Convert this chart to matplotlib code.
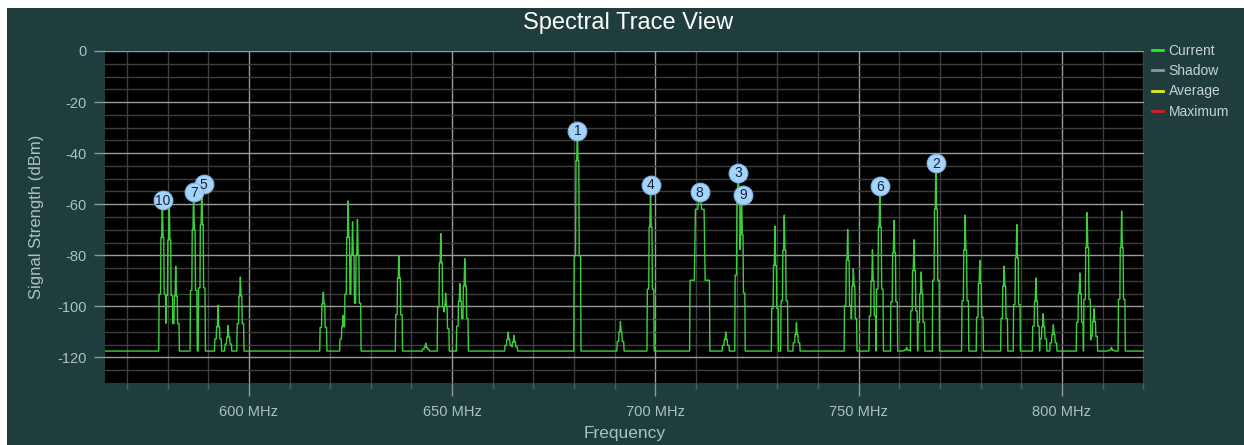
import matplotlib
matplotlib.use("Agg")
import matplotlib.pyplot as plt
from matplotlib.lines import Line2D
from matplotlib.patches import Rectangle
import numpy as np

plt.rcParams['font.family'] = ['Liberation Sans', 'DejaVu Sans']
plt.rcParams['axes.unicode_minus'] = False

# peaks: centre (MHz), top (dBm), shoulder (dBm), half width (MHz)
peak_freq = [578.7, 580.4, 582.0, 586.4, 588.4, 592.4, 594.9, 597.9,
             618.3, 623.2, 624.4, 625.5, 626.7, 636.9, 643.5, 647.2, 648.4,
             651.9, 653.1, 663.8, 665.2, 680.8, 691.4, 698.8, 710.9, 717.3,
             720.4, 721.2, 729.4, 731.7, 734.7, 747.3, 748.7, 753.4, 755.2,
             758.7, 761.8, 763.6, 765.4, 769.0, 776.2, 779.8, 785.8, 788.9,
             793.6, 795.4, 797.9, 804.4, 806.2, 807.9, 812.2, 814.7]
peak_top = [-58.5, -59.6, -84.3, -55.2, -52.2, -99.6, -107.5, -88.5,
            -94.4, -103.5, -58.7, -66.9, -66.0, -80.0, -114.4, -71.5, -94.8,
            -91.1, -81.3, -110.1, -111.4, -31.2, -105.9, -52.3, -55.2, -110.0,
            -47.6, -56.2, -68.6, -64.3, -106.4, -69.9, -85.2, -77.8, -52.8,
            -66.3, -116.0, -73.9, -86.5, -43.8, -64.3, -82.0, -84.2, -68.0,
            -88.9, -102.9, -107.2, -86.9, -63.3, -100.9, -116.0, -62.7]
peak_shoulder = [-73, -74, -96, -70, -68, -108, -112, -96,
                 -99, -108, -73, -80, -80, -89, -116, -83, -100,
                 -98, -92, -113, -114, -43, -110, -69, -62, -113,
                 -58, -72, -84, -78, -111, -82, -92, -90, -69,
                 -79, -117, -86, -95, -62, -78, -91, -92, -81,
                 -98, -108, -111, -95, -77, -106, -117, -77]
peak_width = [0.8] * len(peak_freq)
peak_width[24] = 2.4   # broad carrier under marker 8

noise_floor = -117.5

# numbered markers: label, MHz, dBm
marker_label = ["1", "2", "3", "4", "5", "6", "7", "8", "9", "10"]
marker_freq = [680.8, 769.0, 720.4, 698.8, 588.9, 755.2, 586.5, 710.9, 721.6, 578.9]
marker_level = [-31.2, -43.8, -47.6, -52.3, -52.2, -52.8, -55.2, -55.2, -56.2, -58.5]

legend_names = ["Current", "Shadow", "Average", "Maximum"]
legend_colors = ["#22ee22", "#8c9a9a", "#e6e622", "#cc2222"]

y_ticks = [0, -20, -40, -60, -80, -100, -120]
x_ticks = [600, 650, 700, 750, 800]


def build_trace():
  f = np.arange(564.0, 821.0, 0.02)
  level = np.full_like(f, noise_floor)
  for c, top, sh, hw in zip(peak_freq, peak_top, peak_shoulder, peak_width):
    low = (noise_floor + sh) / 2.0
    # stepped spike: steep walls, a low step, a shoulder step, then the tip
    xs = [c - hw - 0.08, c - hw, c - 0.55 * hw, c - 0.45 * hw, c - 0.2 * hw, c,
          c + 0.2 * hw, c + 0.45 * hw, c + 0.55 * hw, c + hw, c + hw + 0.08]
    ys = [noise_floor, low, low, sh, sh, top, sh, sh, low, low, noise_floor]
    level = np.maximum(level, np.interp(f, xs, ys, left=noise_floor, right=noise_floor))
  return f, level


def main():
  bg = "#203d3d"
  txt = "#a9c2c2"

  fig = plt.figure(figsize=(12.44, 4.45), dpi=100, facecolor="white")
  fig.patches.append(Rectangle((7 / 1244, 0), 1, 1 - 8 / 445, transform=fig.transFigure,
                               facecolor=bg, edgecolor="none", zorder=-10))

  ax = fig.add_axes([105 / 1244, 62 / 445, 1039 / 1244, 332 / 445])
  ax.set_facecolor("black")

  f, level = build_trace()
  ax.plot(f, level, color="#3ccf3c", lw=1.0, zorder=3)

  ax.set_xlim(564.6, 820.2)
  ax.set_ylim(-130, 0)

  ax.set_xticks(x_ticks)
  ax.set_xticklabels(["%d MHz" % v for v in x_ticks])
  ax.set_xticks(np.arange(570, 821, 10), minor=True)
  ax.set_yticks(y_ticks)
  ax.set_yticks(np.arange(-125, 0, 5), minor=True)

  ax.grid(which="major", color="#9a9a9a", lw=1.0, zorder=1)
  ax.grid(which="minor", color="#3e3e3e", lw=1.0, zorder=0)
  ax.set_axisbelow(True)

  ax.tick_params(axis="y", which="major", colors="#8a9a9a", labelcolor=txt,
                 length=8, width=1, pad=5, labelsize=10.5)
  ax.tick_params(axis="y", which="minor", length=0)
  ax.tick_params(axis="x", which="major", colors="#8a9a9a", labelcolor=txt,
                 length=9, width=1, pad=7, labelsize=10.5)
  ax.tick_params(axis="x", which="minor", colors="#4c6060", length=4, width=1)
  for s in ax.spines.values():
    s.set_visible(False)

  ax.set_ylabel("Signal Strength (dBm)", color=txt, fontsize=12, labelpad=10)
  ax.set_xlabel("Frequency", color=txt, fontsize=12.5, labelpad=5)
  fig.text(628 / 1244, 1 - 23 / 445, "Spectral Trace View", color="white",
           fontsize=17, ha="center", va="center")

  for lab, mf, ml in zip(marker_label, marker_freq, marker_level):
    ax.plot([mf], [ml], marker="o", markersize=13.5, color="#a5d3fa",
            markeredgecolor="#7fb4e0", markeredgewidth=0.8, zorder=5, clip_on=False)
    ax.text(mf, ml - 0.3, lab, ha="center", va="center", fontsize=10,
            color="#10263c", zorder=6)

  handles = [Line2D([], [], color=c, lw=2) for c in legend_colors]
  fig.legend(handles, legend_names, loc="upper left",
             bbox_to_anchor=(1152 / 1244, 1 - 44 / 445), frameon=False,
             handlelength=0.8, handletextpad=0.4, labelspacing=0.45,
             fontsize=10, labelcolor="#c4d4d4", borderaxespad=0, borderpad=0)

  fig.savefig("out.png", dpi=100, facecolor=fig.get_facecolor())


if __name__ == '__main__':
  main()
